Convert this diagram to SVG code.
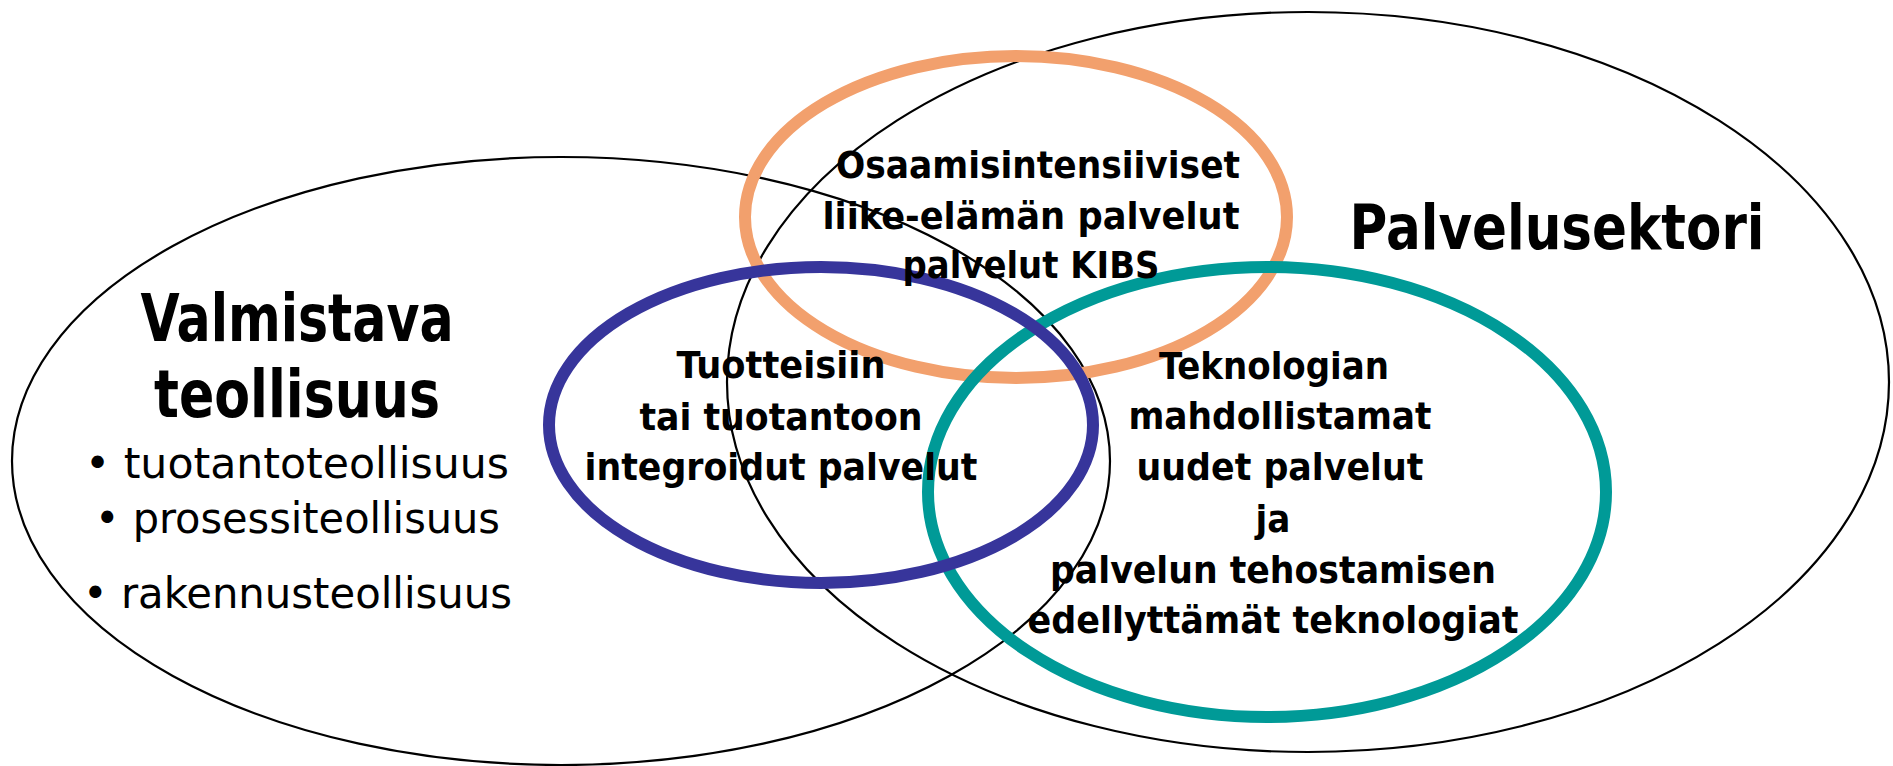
<svg xmlns="http://www.w3.org/2000/svg" width="1893" height="766" viewBox="0 0 1893 766">
  <style>
    .sector { fill: none; stroke: #000; stroke-width: 2.2; }
    .ring { fill: none; stroke-width: 12; }
    .kibs { stroke: #f2a06d; }
    .tech { stroke: #009a97; }
    .integ { stroke: #37359b; }
    text { fill: #000; text-anchor: middle; }
    .head { font-family: "DejaVu Sans Condensed", "DejaVu Sans", sans-serif; font-weight: bold; font-size: 65px; }
    .head-wide { font-family: "DejaVu Sans", sans-serif; font-weight: bold; font-size: 63px; }
    .item { font-family: "DejaVu Sans Condensed", "DejaVu Sans", sans-serif; font-size: 42px; text-anchor: start; }
    .lbl { font-family: "DejaVu Sans Condensed", "DejaVu Sans", sans-serif; font-weight: bold; font-size: 38px; }
  </style>
  <rect width="1893" height="766" fill="#fff"/>

  <!-- sector outlines and overlapping service areas -->
  <g id="valmistava-teollisuus">
    <ellipse class="sector" cx="561" cy="461" rx="549" ry="304"/>
  </g>
  <g id="palvelusektori">
    <ellipse class="sector" cx="1308" cy="382" rx="581" ry="370"/>
  </g>
  <g id="kibs">
    <ellipse class="ring kibs" cx="1016" cy="217" rx="271" ry="161"/>
  </g>
  <g id="teknologia">
    <ellipse class="ring tech" cx="1267" cy="492" rx="339" ry="225"/>
  </g>
  <g id="integroidut">
    <ellipse class="ring integ" cx="821" cy="425" rx="272" ry="158"/>
  </g>

  <!-- no connectors in this figure -->
  <g id="connectors"/>

  <!-- labels -->
  <g id="label-valmistava">
    <text class="head" x="297" y="341" textLength="313" lengthAdjust="spacingAndGlyphs">Valmistava</text>
    <text class="head" x="297" y="417" textLength="286" lengthAdjust="spacingAndGlyphs">teollisuus</text>
    <text class="item" x="85" y="478" textLength="424" lengthAdjust="spacingAndGlyphs">• tuotantoteollisuus</text>
    <text class="item" x="95" y="533" textLength="405" lengthAdjust="spacingAndGlyphs">• prosessiteollisuus</text>
    <text class="item" x="83" y="608" textLength="429" lengthAdjust="spacingAndGlyphs">• rakennusteollisuus</text>
  </g>
  <g id="label-palvelusektori">
    <text class="head-wide" x="1557" y="249" textLength="415" lengthAdjust="spacingAndGlyphs">Palvelusektori</text>
  </g>
  <g id="label-kibs">
    <text class="lbl" x="1038" y="178" textLength="404" lengthAdjust="spacingAndGlyphs">Osaamisintensiiviset</text>
    <text class="lbl" x="1031" y="229" textLength="417" lengthAdjust="spacingAndGlyphs">liike-elämän palvelut</text>
    <text class="lbl" x="1031" y="278" textLength="257" lengthAdjust="spacingAndGlyphs">palvelut KIBS</text>
  </g>
  <g id="label-integroidut">
    <text class="lbl" x="781" y="378" textLength="209" lengthAdjust="spacingAndGlyphs">Tuotteisiin</text>
    <text class="lbl" x="781" y="430" textLength="283" lengthAdjust="spacingAndGlyphs">tai tuotantoon</text>
    <text class="lbl" x="781" y="480" textLength="393" lengthAdjust="spacingAndGlyphs">integroidut palvelut</text>
  </g>
  <g id="label-teknologia">
    <text class="lbl" x="1274" y="379" textLength="230" lengthAdjust="spacingAndGlyphs">Teknologian</text>
    <text class="lbl" x="1280" y="429" textLength="303" lengthAdjust="spacingAndGlyphs">mahdollistamat</text>
    <text class="lbl" x="1280" y="480" textLength="287" lengthAdjust="spacingAndGlyphs">uudet palvelut</text>
    <text class="lbl" x="1273" y="532">ja</text>
    <text class="lbl" x="1273" y="583" textLength="446" lengthAdjust="spacingAndGlyphs">palvelun tehostamisen</text>
    <text class="lbl" x="1273" y="633" textLength="491" lengthAdjust="spacingAndGlyphs">edellyttämät teknologiat</text>
  </g>
</svg>
